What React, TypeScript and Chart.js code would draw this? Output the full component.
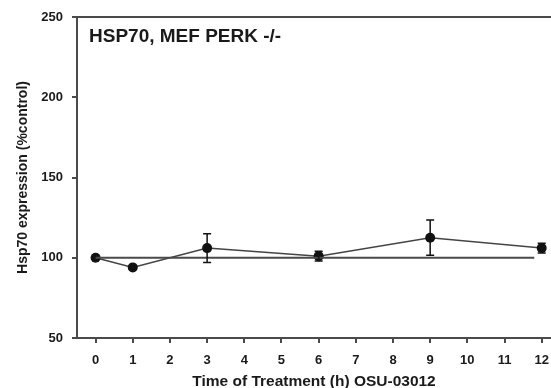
import React, { useEffect, useRef } from "react";
import { Chart, registerables } from "chart.js";

Chart.register(...registerables);

const times = [0, 1, 3, 6, 9, 12];
const hsp70 = [100, 94, 106, 101, 112.5, 106];
const hsp70Err = [0, 1, 9, 3, 11, 3];
const baselineX = [0, 11.8];
const baselineY = [100, 100];
const xTicks = [0, 1, 2, 3, 4, 5, 6, 7, 8, 9, 10, 11, 12];
const yTicks = [50, 100, 150, 200, 250];
const chartTitle = "HSP70, MEF PERK -/-";
const xTitle = "Time of Treatment (h) OSU-03012";
const yTitle = "Hsp70 expression (%control)";

const FONT = "'Liberation Sans', Arial, sans-serif";
const AXIS = "#4a4a4a";
const TEXT = "#1a1a1a";

const errorBarPlugin = {
  id: "errorBars",
  afterDatasetsDraw(chart: any) {
    const ctx = chart.ctx;
    const xs = chart.scales.x;
    const ys = chart.scales.y;
    ctx.save();
    ctx.strokeStyle = "#111";
    ctx.lineWidth = 1.5;
    times.forEach((t, i) => {
      const e = hsp70Err[i];
      if (!e) return;
      const px = xs.getPixelForValue(t);
      const top = ys.getPixelForValue(hsp70[i] + e);
      const bot = ys.getPixelForValue(hsp70[i] - e);
      ctx.beginPath();
      ctx.moveTo(px, top);
      ctx.lineTo(px, bot);
      ctx.moveTo(px - 4, top);
      ctx.lineTo(px + 4, top);
      ctx.moveTo(px - 4, bot);
      ctx.lineTo(px + 4, bot);
      ctx.stroke();
    });
    ctx.restore();
  },
};

const innerTitlePlugin = {
  id: "innerTitle",
  afterDraw(chart: any) {
    const ctx = chart.ctx;
    const a = chart.chartArea;
    ctx.save();
    ctx.fillStyle = TEXT;
    ctx.font = `bold 19px ${FONT}`;
    ctx.textBaseline = "alphabetic";
    ctx.textAlign = "left";
    ctx.fillText(chartTitle, a.left + 12, a.top + 25);
    ctx.restore();
  },
};

export default function App() {
  const ref = useRef<HTMLCanvasElement>(null);

  useEffect(() => {
    if (!ref.current) return;
    const chart = new Chart(ref.current, {
      type: "line",
      data: {
        datasets: [
          {
            data: baselineX.map((x, i) => ({ x, y: baselineY[i] })),
            borderColor: AXIS,
            borderWidth: 2,
            pointRadius: 0,
            fill: false,
          },
          {
            data: times.map((x, i) => ({ x, y: hsp70[i] })),
            borderColor: "#444",
            borderWidth: 1.5,
            pointRadius: 5,
            pointBackgroundColor: "#111",
            pointBorderColor: "#111",
            pointBorderWidth: 0,
            fill: false,
          },
        ],
      },
      options: {
        animation: false,
        responsive: false,
        devicePixelRatio: 1,
        layout: { padding: 0 },
        plugins: {
          legend: { display: false },
          tooltip: { enabled: false },
          title: { display: false },
        },
        scales: {
          x: {
            type: "linear",
            position: "bottom",
            min: -0.5,
            max: 12.25,
            afterBuildTicks: (s: any) => {
              s.ticks = xTicks.map((v) => ({ value: v }));
            },
            afterFit: (s: any) => {
              s.height = 50;
              s.paddingLeft = 0;
              s.paddingRight = 0;
            },
            grid: { display: true, drawOnChartArea: false, tickLength: 5, color: AXIS, lineWidth: 2 },
            border: { display: true, color: AXIS, width: 2 },
            ticks: {
              color: TEXT,
              font: { family: FONT, size: 13, weight: "bold" },
              padding: 10,
              maxRotation: 0,
              autoSkip: false,
            },
            title: {
              display: true,
              text: xTitle,
              color: TEXT,
              font: { family: FONT, size: 15.5, weight: "bold" },
              padding: { top: 0, bottom: -3 },
            },
          },
          x2: {
            type: "linear",
            position: "top",
            min: -0.5,
            max: 12.25,
            afterFit: (s: any) => {
              s.height = 17;
              s.paddingLeft = 0;
              s.paddingRight = 0;
            },
            grid: { display: false },
            border: { display: true, color: AXIS, width: 2 },
            ticks: { display: false },
          },
          y: {
            type: "linear",
            min: 50,
            max: 250,
            afterBuildTicks: (s: any) => {
              s.ticks = yTicks.map((v) => ({ value: v }));
            },
            afterFit: (s: any) => {
              s.width = 77;
              s.paddingTop = 0;
              s.paddingBottom = 0;
            },
            grid: { display: true, drawOnChartArea: false, tickLength: 5, color: AXIS, lineWidth: 2 },
            border: { display: true, color: AXIS, width: 2 },
            ticks: {
              color: TEXT,
              font: { family: FONT, size: 13, weight: "bold" },
              padding: 9,
            },
            title: {
              display: true,
              text: yTitle,
              color: TEXT,
              font: { family: FONT, size: 14, weight: "bold" },
              padding: { top: 15, bottom: 0 },
            },
          },
        },
      },
      plugins: [errorBarPlugin, innerTitlePlugin],
    } as any);
    return () => chart.destroy();
  }, []);

  return (
    <div
      style={{
        position: "absolute",
        left: 0,
        top: 0,
        width: 551,
        height: 388,
        overflow: "hidden",
        background: "#fff",
      }}
    >
      <canvas ref={ref} width={556} height={388} style={{ display: "block" }} />
    </div>
  );
}
